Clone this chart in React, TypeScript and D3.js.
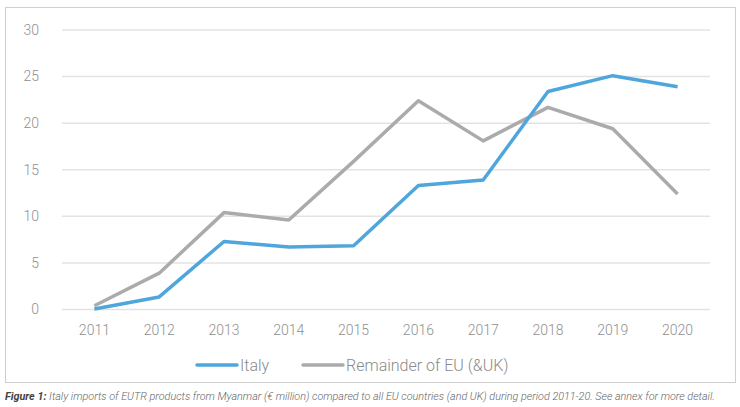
import React, { useEffect, useRef } from "react";
import * as d3 from "d3";

const years = ["2011", "2012", "2013", "2014", "2015", "2016", "2017", "2018", "2019", "2020"];
const italy = [0.05, 1.35, 7.3, 6.7, 6.85, 13.3, 13.9, 23.4, 25.1, 23.9];
const remainder = [0.4, 3.9, 10.4, 9.6, 15.9, 22.4, 18.1, 21.7, 19.4, 12.4];
const yTicks = [0, 5, 10, 15, 20, 25, 30];
const seriesNames = ["Italy", "Remainder of EU (&UK)"];
const colors = ["#4ea6dc", "#ababab"];
const caption =
  "Italy imports of EUTR products from Myanmar (€ million) compared to all EU countries (and UK) during period 2011-20. See annex for more detail.";

const W = 740;
const H = 407;

export default function App() {
  const svgRef = useRef<SVGSVGElement>(null);

  useEffect(() => {
    if (!svgRef.current) return;
    const svg = d3.select(svgRef.current);
    svg.selectAll("*").remove();

    const font = "Roboto, 'Noto Sans', sans-serif";

    // outer frame
    svg.append("rect")
      .attr("x", 5.5).attr("y", 7.5)
      .attr("width", 730).attr("height", 375)
      .attr("fill", "#fff")
      .attr("stroke", "#cfcfcf");

    const left = 62, right = 710, top = 30, bottom = 309.5;

    const x = d3.scalePoint<string>().domain(years).range([left, right]).padding(0.5);
    const y = d3.scaleLinear().domain([0, 30]).range([bottom, top]);

    // grid
    svg.append("g")
      .selectAll("line")
      .data(yTicks)
      .join("line")
      .attr("x1", left).attr("x2", right)
      .attr("y1", d => y(d)).attr("y2", d => y(d))
      .attr("stroke", "#e3e3e3")
      .attr("stroke-width", 1.5);

    // y labels
    svg.append("g")
      .selectAll("text")
      .data(yTicks)
      .join("text")
      .attr("x", 39)
      .attr("y", d => y(d))
      .attr("dy", "0.35em")
      .attr("text-anchor", "end")
      .attr("font-family", font)
      .attr("font-weight", 300)
      .attr("font-size", 14)
      .attr("fill", "#8f8f8f")
      .text(d => d);

    // x labels
    svg.append("g")
      .selectAll("text")
      .data(years)
      .join("text")
      .attr("x", d => x(d)!)
      .attr("y", 335)
      .attr("text-anchor", "middle")
      .attr("font-family", font)
      .attr("font-weight", 300)
      .attr("font-size", 14)
      .attr("fill", "#8f8f8f")
      .text(d => d);

    // lines
    const line = d3.line<number>()
      .x((_, i) => x(years[i])!)
      .y(d => y(d));

    [remainder, italy].forEach((vals, k) => {
      svg.append("path")
        .datum(vals)
        .attr("fill", "none")
        .attr("stroke", k === 0 ? colors[1] : colors[0])
        .attr("stroke-width", 3.5)
        .attr("stroke-linejoin", "round")
        .attr("d", line);
    });

    // legend
    const legendX = [197, 303];
    seriesNames.forEach((name, i) => {
      const g = svg.append("g").attr("transform", `translate(${legendX[i]},365)`);
      g.append("line")
        .attr("x1", 0).attr("x2", 40)
        .attr("stroke", colors[i])
        .attr("stroke-width", 3.5)
        .attr("stroke-linecap", "round");
      g.append("text")
        .attr("x", 43)
        .attr("dy", "0.35em")
        .attr("font-family", font)
        .attr("font-weight", 300)
        .attr("font-size", 16)
        .attr("fill", "#8a8a8a")
        .text(name);
    });

    // caption
    const cap = svg.append("text")
      .attr("x", 5)
      .attr("y", 400)
      .attr("font-family", font)
      .attr("font-style", "italic")
      .attr("font-size", 10.8)
      .attr("fill", "#666");
    cap.append("tspan").attr("font-weight", 700).attr("font-style", "italic").attr("fill", "#444").text("Figure 1: ");
    cap.append("tspan").attr("font-weight", 300).text(caption);
  }, []);

  return (
    <svg
      ref={svgRef}
      width={W}
      height={H}
      style={{ position: "absolute", left: 0, top: 0, background: "#fff" }}
    />
  );
}
